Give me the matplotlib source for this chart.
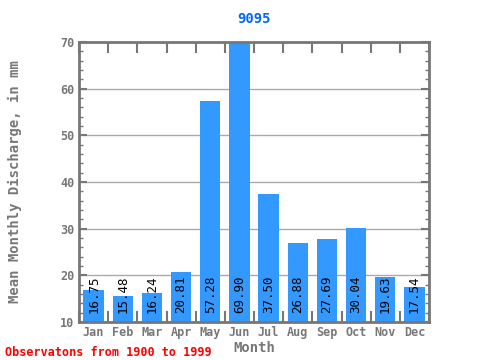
import numpy as np
from matplotlib import pyplot as plt
from matplotlib.ticker import MultipleLocator

months = ['Jan', 'Feb', 'Mar', 'Apr', 'May', 'Jun', 'Jul', 'Aug', 'Sep', 'Oct', 'Nov', 'Dec']
discharge = [16.75, 15.48, 16.24, 20.81, 57.28, 69.90, 37.50, 26.88, 27.69, 30.04, 19.63, 17.54]
yticks = [10, 20, 30, 40, 50, 60, 70]

gray = '#777777'
mono = 'DejaVu Sans Mono'

fig = plt.figure(figsize=(4.8, 3.6), dpi=100)
ax = fig.add_axes([0.1646, 0.1056, 0.7292, 0.7778])

x = np.arange(len(months))
ax.bar(x, np.array(discharge) - 10, bottom=10, width=0.7, color='#3399ff', zorder=2)
for xi, v in zip(x, discharge):
    ax.text(xi, 11.9, f'{v:.2f}', rotation=90, ha='center', va='bottom',
            fontsize=9, family=mono, color='black', zorder=3)

ax.set_xlim(-0.5, 11.5)
ax.set_ylim(10, 70)
ax.set_yticks(yticks)
ax.yaxis.set_minor_locator(MultipleLocator(2))
ax.set_xticks(x)
ax.set_xticklabels(months)
ax.set_xticks(np.arange(-0.5, 12, 1), minor=True)
ax.tick_params(axis='x', which='major', length=0, pad=3)
ax.tick_params(axis='x', which='minor', direction='in', length=8, width=1.5, color=gray,
               top=True, bottom=True)
ax.tick_params(axis='y', which='major', direction='in', length=6, width=1.5, color=gray,
               left=True, right=True)
ax.tick_params(axis='y', which='minor', direction='in', length=3, width=1, color=gray,
               left=True, right=True)
for lab in ax.get_xticklabels() + ax.get_yticklabels():
    lab.set_family(mono)
    lab.set_fontweight('bold')
    lab.set_color(gray)
    lab.set_fontsize(8.5)

ax.grid(axis='y', color='#aaaaaa', linewidth=1, zorder=1)
for s in ax.spines.values():
    s.set_color(gray)
    s.set_linewidth(2)

ax.set_title('9095', color='#0066ff', fontsize=10, fontweight='bold', family=mono, pad=14)
ax.set_xlabel('Month', color=gray, fontsize=10, fontweight='bold', family=mono, labelpad=1)
ax.set_ylabel('Mean Monthly Discharge, in mm', color=gray, fontsize=10, fontweight='bold',
              family=mono, labelpad=27)
fig.text(0.01, 0.012, 'Observatons from 1900 to 1999', color='red', fontsize=8.5,
         fontweight='bold', family=mono)

fig.savefig('out.png', dpi=100)
